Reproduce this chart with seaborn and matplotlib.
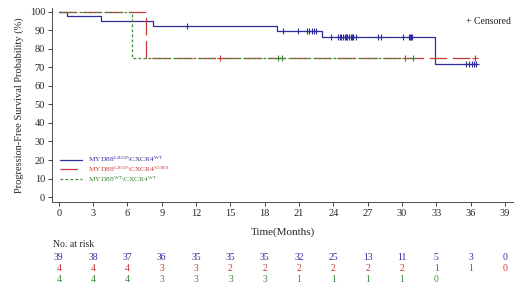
import numpy as np
import pandas as pd
import matplotlib
matplotlib.use("Agg")
import matplotlib.pyplot as plt
import seaborn as sns

sns.set_style("white")
plt.rcParams['font.family'] = ['Liberation Serif', 'DejaVu Serif']
plt.rcParams['mathtext.fontset'] = 'custom'
plt.rcParams['mathtext.rm'] = 'Liberation Serif'
plt.rcParams['mathtext.default'] = 'regular'

# ---- data (months); event=1, censored=0 ----
blue_times = [0.7, 3.7, 8.2, 11.2, 19.1, 19.6, 20.9,
              21.7, 21.9, 22.1, 22.3, 22.5, 23.0, 23.8,
              24.4, 24.6, 24.7, 24.8, 25.0, 25.1, 25.2, 25.4, 25.5, 25.6, 25.7, 26.0,
              27.9, 28.2, 30.1, 30.6, 30.7, 30.8, 30.9, 32.9,
              35.6, 35.85, 36.1, 36.3, 36.5]
blue_events = [1, 1, 1, 0, 1, 0, 0,
               0, 0, 0, 0, 0, 1, 0,
               0, 0, 0, 0, 0, 0, 0, 0, 0, 0, 0, 0,
               0, 0, 0, 0, 0, 0, 0, 1,
               0, 0, 0, 0, 0]
red_times = [7.6, 14.1, 30.3, 36.4]
red_events = [1, 0, 0, 0]
green_times = [6.4, 19.2, 19.5, 31.0]
green_events = [1, 0, 0, 0]

labels = [r'MYD88$^{L265P}$\CXCR4$^{WT}$',
          r'MYD88$^{L265P}$\CXCR4$^{S338X}$',
          r'MYD88$^{WT}$\CXCR4$^{WT}$']
colors = ['#2e2e9a', '#c83a3a', '#3a8a3a']

x_ticks = list(range(0, 40, 3))
risk_blue = [39, 38, 37, 36, 35, 35, 35, 32, 25, 13, 11, 5, 3, 0]
risk_red = [4, 4, 4, 3, 3, 2, 2, 2, 2, 2, 2, 1, 1, 0]
risk_green = [4, 4, 4, 3, 3, 3, 3, 1, 1, 1, 1, 0]


def km(times, events):
    t = np.array(times, float)
    e = np.array(events, int)
    order = np.argsort(t)
    t, e = t[order], e[order]
    n = len(t)
    s = 100.0
    xs, ys = [0.0], [100.0]
    cx, cy = [], []
    at_risk = n
    for ti, ei in zip(t, e):
        if ei == 1:
            xs.append(ti); ys.append(s)
            s = s * (at_risk - 1) / at_risk
            xs.append(ti); ys.append(s)
        else:
            cx.append(ti); cy.append(s)
        at_risk -= 1
    xs.append(t.max()); ys.append(s)
    return xs, ys, cx, cy


fig = plt.figure(figsize=(5.2, 2.92), dpi=100)
ax = fig.add_axes([0.1, 0.309, 0.8865, 0.664])

styles = ['-', (0, (14, 4.5)), (0, (2.2, 1.8))]
groups = [(blue_times, blue_events), (red_times, red_events), (green_times, green_events)]
handles = []
for (tt, ee), col, ls, lab in zip(groups, colors, styles, labels):
    xs, ys, cx, cy = km(tt, ee)
    df = pd.DataFrame({'t': xs, 's': ys})
    n_before = len(ax.lines)
    sns.lineplot(data=df, x='t', y='s', estimator=None, sort=False,
                 color=col, lw=0.9, ax=ax)
    line = ax.lines[n_before]
    line.set_linestyle(ls)
    line.set_label(lab)
    handles.append(line)
    if cx:
        sns.scatterplot(x=cx, y=cy, marker='+', color=col, s=14, linewidth=0.8, ax=ax, zorder=4)

ax.set_xlim(-0.6, 39.7)
ax.set_ylim(-2.5, 102)
ax.set_xticks(x_ticks)
ax.set_yticks(range(0, 101, 10))
ax.tick_params(axis='both', labelsize=7.5, length=3, width=0.6, direction='out',
               left=True, bottom=True, pad=2)
for side in ['top', 'right']:
    ax.spines[side].set_visible(False)
for side in ['left', 'bottom']:
    ax.spines[side].set_linewidth(0.6)
    ax.spines[side].set_color('#333333')
ax.set_xlabel('Time(Months)', fontsize=8, labelpad=7)
ax.set_ylabel('Progression-Free Survival Probability (%)', fontsize=7.5, labelpad=4)

leg = ax.legend(handles=handles, labels=labels, loc='center left', bbox_to_anchor=(0.017, 0.167),
                frameon=False, fontsize=5.4, handlelength=3.0, handletextpad=0.8,
                labelspacing=0.05, borderpad=0, borderaxespad=0)
for txt, col in zip(leg.get_texts(), colors):
    txt.set_color(col)

ax.text(0.995, 0.93, '+ Censored', transform=ax.transAxes, ha='right', va='center',
        fontsize=7, color='#222222')

trans = ax.get_xaxis_transform()
ax.text(-0.5, -0.218, 'No. at risk', transform=trans, ha='left', va='center', fontsize=7)
for row, col, yy in zip([risk_blue, risk_red, risk_green], colors, [-0.289, -0.344, -0.401]):
    for xv, v in zip(x_ticks, row):
        ax.text(xv, yy, str(v), transform=trans, ha='center', va='center', fontsize=7, color=col)

fig.savefig('out.png', dpi=100)
